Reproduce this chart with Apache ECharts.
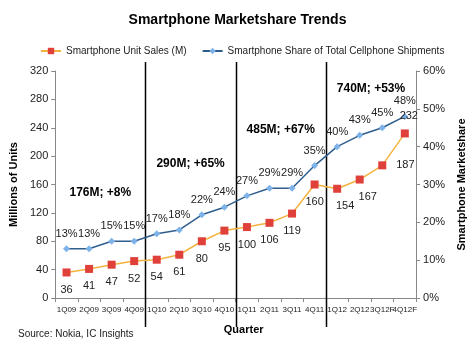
<!DOCTYPE html>
<html><head><meta charset="utf-8">
<script src="https://cdn.jsdelivr.net/npm/echarts@6/dist/echarts.min.js"></script>
<style>html,body{margin:0;padding:0;background:#fff}#c{width:475px;height:347px}</style>
</head><body><div id="c"></div>
<script>
const categories = ['1Q09','2Q09','3Q09','4Q09','1Q10','2Q10','3Q10','4Q10','1Q11','2Q11','3Q11','4Q11','1Q12','2Q12','3Q12F','4Q12F'];
const unitSales = [36,41,47,52,54,61,80,95,100,106,119,160,154,167,187,232];
const sharePct = [13,13,15,15,17,18,22,24,27,29,29,35,40,43,45,48];
const leftTicks = [0,40,80,120,160,200,240,280,320];
const rightTicks = [0,10,20,30,40,50,60];
const annotations = ['176M; +8%','290M; +65%','485M; +67%','740M; +53%'];
const annotationAt = [[1.5,149],[5.5,190],[9.5,237],[13.5,295]];
const dividers = [3.5,7.5,11.5];

const FONT = 'Liberation Sans, Arial, sans-serif';
const chart = echarts.init(document.getElementById('c'));
const salesData = unitSales.map((v,i)=>{
  if(i===15) return {value:v,label:{position:'top',offset:[4,0]}};
  if(i===14) return {value:v,label:{position:'right',distance:10}};
  if(i===13||i===12) return {value:v,label:{offset:[8,0]}};
  return v;
});
chart.setOption({
  backgroundColor:'#fff',
  animation:false,
  title:{text:'Smartphone Marketshare Trends',left:'center',top:8,
    textStyle:{fontFamily:FONT,fontSize:14,fontWeight:'bold',color:'#000'}},
  legend:{left:35,top:41,itemWidth:20,itemHeight:8,itemGap:15,
    textStyle:{fontFamily:FONT,fontSize:10,color:'#222'}},
  grid:{left:40,right:51,top:71,bottom:49,containLabel:false},
  xAxis:{type:'category',data:categories,name:'Quarter',nameLocation:'middle',nameGap:26,
    nameTextStyle:{fontFamily:FONT,fontSize:11,fontWeight:'bold',color:'#000',padding:[0,0,0,16]},
    axisLine:{lineStyle:{color:'#888'}},axisTick:{show:true,alignWithLabel:false,length:4,lineStyle:{color:'#888'}},
    axisLabel:{fontFamily:FONT,fontSize:8,color:'#222',interval:0,margin:8,hideOverlap:false}},
  yAxis:[
    {type:'value',min:0,max:320,interval:40,name:'Millions of Units',nameLocation:'middle',nameGap:27,
     nameTextStyle:{fontFamily:FONT,fontSize:11,fontWeight:'bold',color:'#000'},
     axisLine:{show:true,lineStyle:{color:'#888'}},axisTick:{show:true,length:4,lineStyle:{color:'#888'}},
     splitLine:{show:false},axisLabel:{fontFamily:FONT,fontSize:11,color:'#222',margin:7}},
    {type:'value',min:0,max:60,interval:10,name:'Smartphone Marketshare',nameLocation:'middle',nameGap:38,
     nameRotate:90,
     nameTextStyle:{fontFamily:FONT,fontSize:11,fontWeight:'bold',color:'#000'},
     axisLine:{show:true,lineStyle:{color:'#888'}},axisTick:{show:true,length:4,lineStyle:{color:'#888'}},
     splitLine:{show:false},axisLabel:{fontFamily:FONT,fontSize:11,color:'#222',margin:7,formatter:'{value}%'}}
  ],
  series:[
    {name:'Smartphone Unit Sales (M)',type:'line',yAxisIndex:0,data:salesData,
     symbol:'rect',symbolSize:8,itemStyle:{color:'#E0403A'},lineStyle:{color:'#F4B33F',width:1.5},
     label:{show:true,position:'bottom',distance:8,fontFamily:FONT,fontSize:11,color:'#222'}},
    {name:'Smartphone Share of Total Cellphone Shipments',type:'line',yAxisIndex:1,data:sharePct,
     symbol:'diamond',symbolSize:7,itemStyle:{color:'#7DB3E8'},lineStyle:{color:'#2F5E8E',width:1.5},
     label:{show:true,position:'top',distance:6,fontFamily:FONT,fontSize:11,color:'#222',formatter:'{c}%'}}
  ]
});

function addOverlay(){
  const g=[{type:'text',left:18,top:329,style:{text:'Source: Nokia, IC Insights',font:'10px '+FONT,fill:'#222'}}];
  const yTop = chart.convertToPixel({yAxisIndex:0},320)-9;
  const yBot = chart.convertToPixel({yAxisIndex:0},0)+29;
  dividers.forEach(d=>{
    const a=chart.convertToPixel({xAxisIndex:0},Math.floor(d));
    const b=chart.convertToPixel({xAxisIndex:0},Math.ceil(d));
    const x=Math.round((a+b)/2)+0.5;
    g.push({type:'line',shape:{x1:x,y1:yTop,x2:x,y2:yBot},style:{stroke:'#000',lineWidth:1.5},z:1});
  });
  annotations.forEach((t,i)=>{
    const [ci,v]=annotationAt[i];
    const a=chart.convertToPixel({xAxisIndex:0},Math.floor(ci));
    const b=chart.convertToPixel({xAxisIndex:0},Math.ceil(ci));
    const x=a+(b-a)*(ci-Math.floor(ci));
    const y=chart.convertToPixel({yAxisIndex:0},v);
    g.push({type:'text',x:x,y:y,style:{text:t,font:'bold 12px '+FONT,fill:'#000',align:'center',verticalAlign:'middle'},z:5});
  });
  chart.setOption({graphic:g});
}
addOverlay();
</script></body></html>
